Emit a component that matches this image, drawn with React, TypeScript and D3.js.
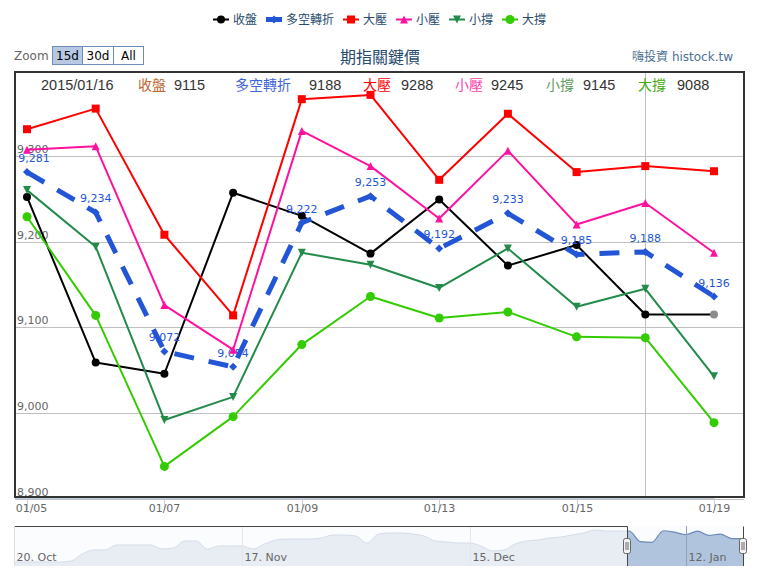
import { scaleLinear, scalePoint, line as d3line, area as d3area, format, curveMonotoneX } from "d3";

// 主圖資料 (日期, 各關鍵價)
const dates = ["2015/01/05", "2015/01/06", "2015/01/07", "2015/01/08", "2015/01/09", "2015/01/12", "2015/01/13", "2015/01/14", "2015/01/15", "2015/01/16", "2015/01/19"];
const closeVals = [9252, 9059, 9046, 9257, 9230, 9186, 9249, 9172, 9196, 9115, 9115];
const pivotVals = [9281, 9234, 9072, 9054, 9222, 9253, 9192, 9233, 9185, 9188, 9136];
const bigResist = [9331, 9355, 9208, 9114, 9366, 9371, 9272, 9349, 9281, 9288, 9282];
const smallResist = [9307, 9311, 9126, 9074, 9329, 9288, 9227, 9306, 9220, 9245, 9187];
const smallSupport = [9260, 9194, 8992, 9019, 9187, 9173, 9146, 9192, 9124, 9145, 9043];
const bigSupport = [9229, 9114, 8938, 8996, 9080, 9136, 9111, 9118, 9089, 9088, 8989];

const yTicks = [8900, 9000, 9100, 9200, 9300];
const xTickIdx = [0, 2, 4, 6, 8, 10];
const hoverIdx = 9;

// 導覽列 (收盤, 2014/10/20 起)
const navEarly = [8688, 8688, 8688, 8688, 8688, 8706, 8833, 8906, 8906, 8997, 8997, 8997, 8997, 8924, 8943, 9070, 9070, 8924, 8979, 8979,
  8979, 8924, 9015, 9088, 9106, 9106, 9106, 9125, 9179, 9179, 9161, 9034, 9197, 9216, 9216, 9197, 9161, 9070, 9052, 9034,
  9034, 8979, 8888, 8906, 9015, 9070, 9088, 9125, 9143, 9179, 9216, 9270, 9252, 9252];
const navVals = [...navEarly, ...closeVals];
const navLabels = ["20. Oct", "17. Nov", "15. Dec", "12. Jan"];
const navLabelIdx = [0, 20, 40, 59];
const navSelStart = 54;

type Shape = "circle" | "diamond" | "square" | "triangle" | "triangle-down";
interface Series { name: string; values: number[]; color: string; width: number; dash?: string; shape: Shape; r: number; labels?: boolean; headColor: string; }

const series: Series[] = [
  { name: "收盤", values: closeVals, color: "#000000", width: 2, shape: "circle", r: 4, headColor: "#c0652e" },
  { name: "多空轉折", values: pivotVals, color: "#2356d6", width: 5, dash: "20,15", shape: "diamond", r: 4, labels: true, headColor: "#3f66d8" },
  { name: "大壓", values: bigResist, color: "#ff0000", width: 2, shape: "square", r: 4, headColor: "#ff0000" },
  { name: "小壓", values: smallResist, color: "#ff11a0", width: 2, shape: "triangle", r: 4, headColor: "#ff40b0" },
  { name: "小撐", values: smallSupport, color: "#228b4a", width: 2, shape: "triangle-down", r: 4, headColor: "#5f9a5f" },
  { name: "大撐", values: bigSupport, color: "#33cc00", width: 2, shape: "circle", r: 4.5, headColor: "#44aa11" },
];

const FONT = '"DejaVu Sans", Verdana, "Noto Sans CJK TC", sans-serif';
const HFONT = '"Liberation Sans", Arial, "Noto Sans CJK TC", sans-serif';

function Marker({ shape, x, y, r, color }: { shape: Shape; x: number; y: number; r: number; color: string }) {
  if (shape === "circle") return <circle cx={x} cy={y} r={r} fill={color} />;
  if (shape === "square") return <rect x={x - r} y={y - r} width={2 * r} height={2 * r} fill={color} />;
  let d = "";
  if (shape === "diamond") d = `M${x},${y - r}L${x + r},${y}L${x},${y + r}L${x - r},${y}Z`;
  if (shape === "triangle") d = `M${x},${y - r}L${x + r},${y + r}L${x - r},${y + r}Z`;
  if (shape === "triangle-down") d = `M${x - r},${y - r}L${x + r},${y - r}L${x},${y + r}Z`;
  return <path d={d} fill={color} />;
}

export default function App() {
  const W = 759, H = 588;
  const plot = { left: 15, right: 744, top: 72, bottom: 497 };

  const x = scalePoint<string>().domain(dates).range([27, 714]);
  const y = scaleLinear().domain([8900, 9400]).range([499, 70]);
  const fmt = format(",");

  const nx = scaleLinear().domain([0, navVals.length - 1]).range([14, 743]);
  const ny = scaleLinear().domain([8615, 9343]).range([566, 526]);
  const navArea = d3area<number>().x((_, i) => nx(i)).y0(566).y1((d) => ny(d)).curve(curveMonotoneX)(navVals) ?? "";
  const navLine = d3line<number>().x((_, i) => nx(i)).y((d) => ny(d)).curve(curveMonotoneX)(navVals) ?? "";
  const selL = 627, selR = 743;

  // 圖例位置
  let lx = 213;
  const legend = series.map((s) => {
    const item = { s, x: lx };
    lx += 29 + 12 * s.name.length;
    return item;
  });

  // 表頭
  const headX = [[138, 174], [235, 309], [363, 401], [455, 491], [546, 583], [638, 677]];

  return (
    <svg width={W} height={H} style={{ position: "absolute", left: 0, top: 0, background: "#fff" }} fontFamily={FONT}>
      {/* 圖例 */}
      {legend.map(({ s, x: ix }) => (
        <g key={s.name}>
          <line x1={ix} x2={ix + 16} y1={19.5} y2={19.5} stroke={s.color} strokeWidth={s.width} />
          <Marker shape={s.shape} x={ix + 8} y={19.5} r={s.r} color={s.color} />
          <text x={ix + 20} y={24} fontSize={12} fill="#274b6d">{s.name}</text>
        </g>
      ))}

      {/* 縮放按鈕 */}
      <text x={14} y={60} fontSize={12} fill="#666">Zoom</text>
      {[["15d", 52, 30, true], ["30d", 82, 31, false], ["All", 113, 30, false]].map(([t, bx, bw, sel]) => (
        <g key={t as string}>
          <rect x={(bx as number) + 0.5} y={46.5} width={bw as number} height={18} fill={sel ? "#b6c8e3" : "#fff"} stroke="#6d8cb9" />
          <text x={(bx as number) + (bw as number) / 2 + 0.5} y={60} fontSize={12} textAnchor="middle" fill="#000">{t as string}</text>
        </g>
      ))}

      <text x={380} y={63} fontSize={16} textAnchor="middle" fill="#274b6d">期指關鍵價</text>
      <text x={733} y={61} fontSize={12} textAnchor="end" fill="#4d6f94">嗨投資 histock.tw</text>

      {/* 格線 */}
      {yTicks.map((t) => (
        <g key={t}>
          <line x1={plot.left} x2={plot.right} y1={Math.round(y(t)) + 0.5} y2={Math.round(y(t)) + 0.5} stroke="#c0c0c0" />
          <text x={17} y={y(t) - 3} fontSize={11} fill="#666">{fmt(t)}</text>
        </g>
      ))}

      {/* 游標線 */}
      <line x1={Math.round(x(dates[hoverIdx])!) + 0.5} x2={Math.round(x(dates[hoverIdx])!) + 0.5} y1={plot.top} y2={plot.bottom} stroke="#c0c0c0" />

      {/* 序列 */}
      <defs>
        <clipPath id="plotClip"><rect x={plot.left} y={plot.top} width={plot.right - plot.left} height={plot.bottom - plot.top} /></clipPath>
      </defs>
      <g clipPath="url(#plotClip)">
        {series.map((s) => {
          const path = d3line<number>().x((_, i) => x(dates[i])!).y((d) => y(d))(s.values) ?? "";
          return (
            <g key={s.name}>
              <path d={path} fill="none" stroke={s.color} strokeWidth={s.width} strokeDasharray={s.dash} strokeLinejoin="round" />
              {s.values.map((v, i) => (
                <Marker key={i} shape={s.shape} x={x(dates[i])!} y={y(v)} r={s.r}
                  color={s.name === "收盤" && i === s.values.length - 1 ? "#8c8c8c" : s.color} />
              ))}
              {s.labels && s.values.map((v, i) => {
                const cx = Math.max(x(dates[i])!, plot.left + 3 + 16);
                return (
                  <text key={"l" + i} x={cx} y={y(v) - 10} fontSize={11} textAnchor="middle" fill={s.color}>{fmt(v)}</text>
                );
              })}
            </g>
          );
        })}
      </g>

      {/* 表頭資訊 */}
      <text x={41} y={90} fontSize={14.5} fontFamily={HFONT} fill="#333">{dates[hoverIdx]}</text>
      {series.map((s, k) => (
        <g key={"h" + s.name}>
          <text x={headX[k][0]} y={90} fontSize={14} fontFamily={HFONT} fill={s.headColor}>{s.name}</text>
          <text x={headX[k][1]} y={90} fontSize={14.5} fontFamily={HFONT} fill="#333">{s.values[hoverIdx]}</text>
        </g>
      ))}

      {/* 外框與X軸 */}
      <rect x={plot.left} y={plot.top} width={plot.right - plot.left} height={plot.bottom - plot.top} fill="none" stroke="#333" strokeWidth={2} />
      <line x1={plot.left} x2={714} y1={498.5} y2={498.5} stroke="#c0d0e0" />
      {xTickIdx.map((i) => {
        const tx = Math.round(x(dates[i])!) + 0.5;
        const lbl = dates[i].slice(5);
        const cx = Math.max(tx, 14 + 17.5);
        return (
          <g key={i}>
            <line x1={tx} x2={tx} y1={498} y2={510} stroke="#c0d0e0" />
            <text x={cx} y={512} fontSize={11} textAnchor="middle" fill="#666">{lbl}</text>
          </g>
        );
      })}

      {/* 導覽列 */}
      <rect x={14} y={526} width={729} height={40} fill="#fbfcfd" />
      <defs>
        <clipPath id="selClip"><rect x={selL} y={520} width={selR - selL} height={50} /></clipPath>
        <clipPath id="unselClip"><rect x={14} y={520} width={selL - 14} height={50} /></clipPath>
      </defs>
      <g clipPath="url(#unselClip)">
        <path d={navArea} fill="#e8edf3" />
        <path d={navLine} fill="none" stroke="#d3dde9" strokeWidth={1} />
      </g>
      <g clipPath="url(#selClip)">
        <path d={navArea} fill="#b1c4dd" />
        <path d={navLine} fill="none" stroke="#6a8bb8" strokeWidth={1.2} />
      </g>
      {navLabelIdx.map((ni, k) => {
        const gx = Math.round(nx(ni)) + 0.5;
        return (
          <g key={ni}>
            {k > 0 && <line x1={gx} x2={gx} y1={526} y2={566} stroke={gx > selL ? "#8ea2c0" : "#e3e6ea"} />}
            <text x={gx + 2} y={561} fontSize={11} fill="#666">{navLabels[k]}</text>
          </g>
        );
      })}
      <path d={`M14,526.5H${selL + 0.5}V566M${selR + 0.5},566V526.5`} fill="none" stroke="#444" />
      <line x1={14.5} x2={14.5} y1={526} y2={566} stroke="#d8dde4" />
      {[selL, selR].map((hx) => (
        <g key={hx}>
          <rect x={hx - 3.5} y={538.5} width={7} height={15} rx={2} fill="#f2f2f2" stroke="#666" />
          <line x1={hx - 1} x2={hx - 1} y1={542} y2={550} stroke="#666" />
          <line x1={hx + 1} x2={hx + 1} y1={542} y2={550} stroke="#666" />
        </g>
      ))}
    </svg>
  );
}
